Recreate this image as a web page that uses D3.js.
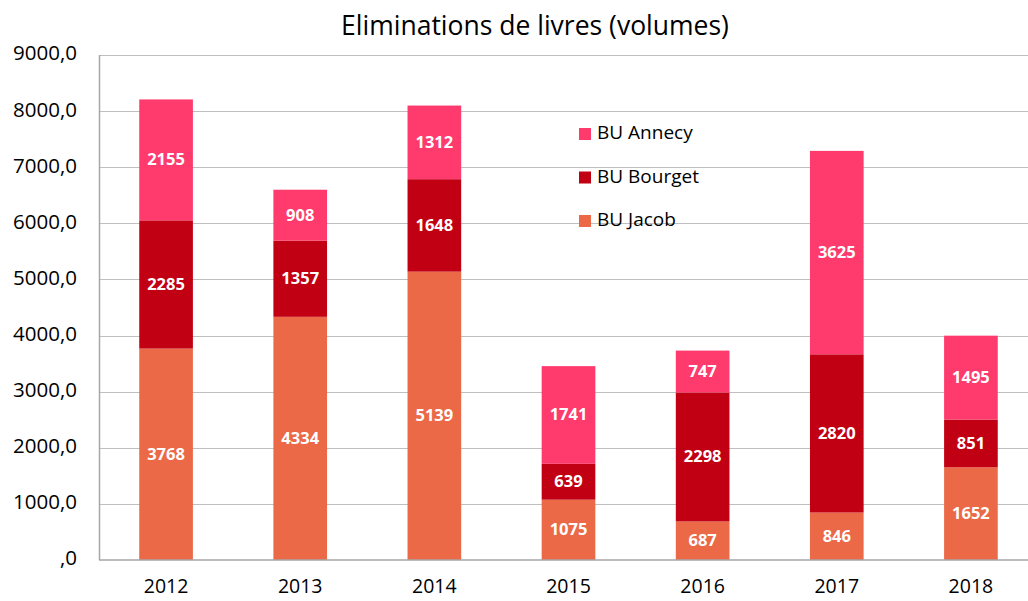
<!DOCTYPE html>
<html>
<head>
    <meta charset="utf-8">
    <title>Eliminations de livres</title>
    <style>
        body { margin: 0; background: #fff; }
        text { font-family: "Open Sans", sans-serif; }
        .grid line { stroke: #bfbfbf; stroke-width: 1px; }
        .bar-label { fill: #fff; font-weight: bold; font-size: 16.5px; text-anchor: middle; dominant-baseline: middle; }
    </style>
    <script src="https://d3js.org/d3.v7.min.js"></script>
</head>
<body>
<div id="chart"></div>
<script>
    const years = ['2012', '2013', '2014', '2015', '2016', '2017', '2018'];
    const jacob = [3768, 4334, 5139, 1075, 687, 846, 1652];
    const bourget = [2285, 1357, 1648, 639, 2298, 2820, 851];
    const annecy = [2155, 908, 1312, 1741, 747, 3625, 1495];
    const seriesNames = ['BU Jacob', 'BU Bourget', 'BU Annecy'];
    const yTicks = [0, 1000, 2000, 3000, 4000, 5000, 6000, 7000, 8000, 9000];

    const colors = { 'BU Jacob': '#eb6947', 'BU Bourget': '#c20014', 'BU Annecy': '#ff3a6d' };

    const width = 1028, height = 601;
    const margin = { left: 99, right: -10, top: 55, bottom: 41 };

    const rows = years.map((y, i) => ({
        year: y, 'BU Jacob': jacob[i], 'BU Bourget': bourget[i], 'BU Annecy': annecy[i]
    }));

    const svg = d3.select('#chart').append('svg')
            .attr('width', width)
            .attr('height', height);

    const x = d3.scaleBand()
            .domain(years)
            .range([margin.left, width - margin.right])
            .paddingInner(0.6)
            .paddingOuter(0.3);

    const y = d3.scaleLinear()
            .domain([0, 9000])
            .range([height - margin.bottom, margin.top]);

    // gridlines
    svg.append('g').attr('class', 'grid')
        .selectAll('line')
        .data(yTicks.filter(d => d > 0))
        .join('line')
        .attr('x1', margin.left).attr('x2', width - margin.right)
        .attr('y1', d => Math.round(y(d)) + 0.5).attr('y2', d => Math.round(y(d)) + 0.5);

    // title
    svg.append('text')
        .attr('x', 535).attr('y', 35)
        .attr('text-anchor', 'middle')
        .style('font-size', '26.5px')
        .style('fill', '#000')
        .text('Eliminations de livres (volumes)');

    // y tick labels
    const fmt = d => (d === 0 ? '' : String(d)) + ',0';
    svg.append('g')
        .selectAll('text')
        .data(yTicks)
        .join('text')
        .attr('x', 77)
        .attr('y', d => y(d))
        .attr('text-anchor', 'end')
        .attr('dominant-baseline', 'middle')
        .style('font-size', '20.5px')
        .style('fill', '#000')
        .text(fmt);

    // stacked bars
    const stack = d3.stack().keys(seriesNames);
    const layers = stack(rows);

    const layer = svg.append('g').selectAll('g')
        .data(layers)
        .join('g')
        .attr('fill', d => colors[d.key]);

    layer.selectAll('rect')
        .data(d => d)
        .join('rect')
        .attr('x', d => x(d.data.year))
        .attr('width', x.bandwidth())
        .attr('y', d => y(d[1]))
        .attr('height', d => y(d[0]) - y(d[1]));

    layer.selectAll('text')
        .data(d => d.map(v => ({ v, key: d.key })))
        .join('text')
        .attr('class', 'bar-label')
        .attr('x', d => x(d.v.data.year) + x.bandwidth() / 2)
        .attr('y', d => (y(d.v[0]) + y(d.v[1])) / 2 + 1)
        .text(d => d.v.data[d.key]);

    // axes lines
    svg.append('line')
        .attr('x1', margin.left + 0.5).attr('x2', margin.left + 0.5)
        .attr('y1', y(9000)).attr('y2', y(0))
        .attr('stroke', '#a6a6a6').attr('stroke-width', 1.5);
    svg.append('line')
        .attr('x1', margin.left).attr('x2', width)
        .attr('y1', y(0)).attr('y2', y(0))
        .attr('stroke', '#a6a6a6').attr('stroke-width', 1.5);

    // x labels
    svg.append('g')
        .selectAll('text')
        .data(years)
        .join('text')
        .attr('x', d => x(d) + x.bandwidth() / 2)
        .attr('y', 593)
        .attr('text-anchor', 'middle')
        .style('font-size', '19.5px')
        .style('fill', '#000')
        .text(d => d);

    // legend
    const legendItems = ['BU Annecy', 'BU Bourget', 'BU Jacob'];
    const legend = svg.append('g').selectAll('g')
        .data(legendItems)
        .join('g')
        .attr('transform', (d, i) => `translate(579, ${134 + i * 43.5})`);
    legend.append('rect')
        .attr('x', 0).attr('y', -6)
        .attr('width', 12).attr('height', 12)
        .attr('fill', d => colors[d]);
    legend.append('text')
        .attr('x', 18).attr('y', 0)
        .attr('dominant-baseline', 'middle')
        .style('font-size', '19px')
        .style('fill', '#000')
        .text(d => d);
</script>
</body>
</html>
